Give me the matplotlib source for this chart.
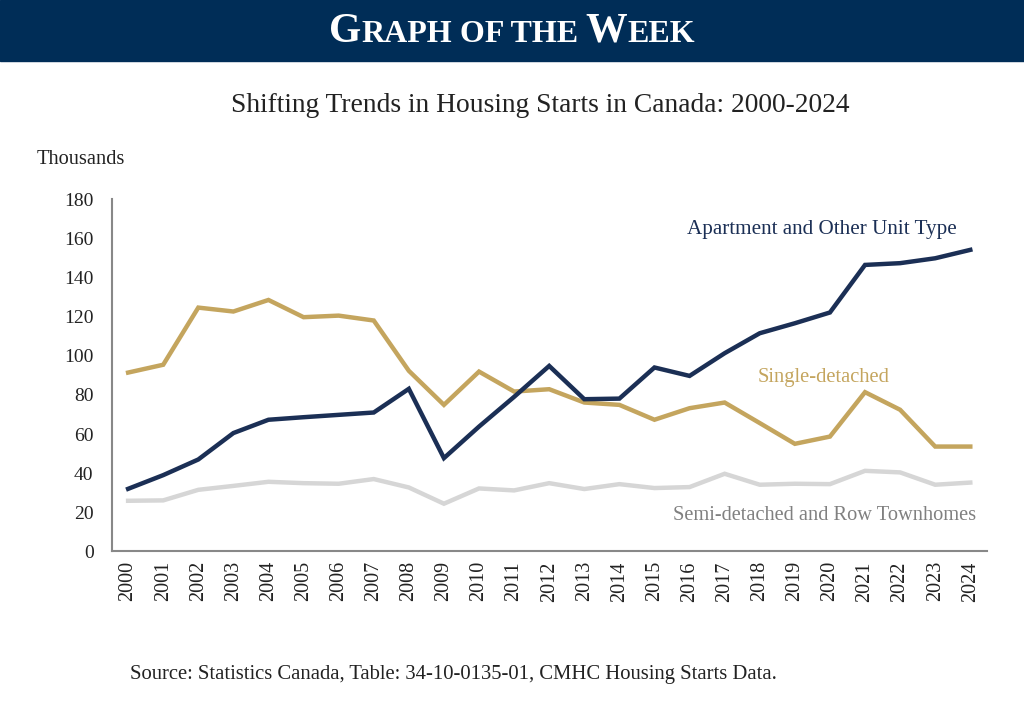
import numpy as np
import matplotlib
matplotlib.use('Agg')
import matplotlib.pyplot as plt
from matplotlib.patches import Rectangle

plt.rcParams['font.family'] = ['Liberation Serif', 'DejaVu Serif']

years = [str(y) for y in range(2000, 2025)]
# thousands of units
apartment = [32, 39, 47, 60.5, 67.3, 68.6, 69.8, 71, 83.1, 47.7, 63.8, 79,
             94.8, 77.8, 78.1, 94, 89.7, 101.3, 111.5, 116.6, 122.1, 146.4,
             147.3, 149.8, 154.1]
single = [91.4, 95.4, 124.6, 122.6, 128.5, 119.7, 120.5, 118, 92.3, 74.9,
          91.9, 81.7, 82.9, 76.1, 74.9, 67.3, 73.2, 76.1, 65.6, 55, 58.7,
          81.4, 72.4, 53.6, 53.6]
semi_row = [25.9, 26.1, 31.5, 33.5, 35.6, 34.9, 34.6, 37, 32.7, 24.4, 32.2,
            31.2, 34.9, 31.9, 34.4, 32.4, 32.9, 39.7, 34.1, 34.6, 34.4, 41.2,
            40.4, 34.1, 35.2]
yticks = list(range(0, 181, 20))

navy = '#1b2f55'
gold = '#c4a55e'
grey = '#d6d6d6'
banner = '#002d57'

fig = plt.figure(figsize=(10.24, 7.19), dpi=100)
ax = fig.add_axes([0.109, 0.233, 0.855, 0.490])

x = np.arange(len(years))
ax.plot(x, semi_row, color=grey, lw=3.2, solid_joinstyle='miter')
ax.plot(x, single, color=gold, lw=3.2, solid_joinstyle='miter')
ax.plot(x, apartment, color=navy, lw=3.2, solid_joinstyle='miter')

ax.set_xlim(-0.47, 24.48)
ax.set_ylim(0, 180)
ax.set_yticks(yticks)
ax.set_xticks(x)
ax.set_xticklabels(years, rotation=90)
ax.tick_params(length=0, colors='#222222')
ax.tick_params(axis='x', labelsize=14.5, pad=7)
ax.tick_params(axis='y', labelsize=14, pad=13)
for s in ['top', 'right']:
    ax.spines[s].set_visible(False)
for s in ['left', 'bottom']:
    ax.spines[s].set_color('#888888')
    ax.spines[s].set_linewidth(1.5)

ax.text(0.9657, 0.915, 'Apartment and Other Unit Type', transform=ax.transAxes,
        color=navy, fontsize=15.2, ha='right', va='center')
ax.text(0.888, 0.493, 'Single-detached', transform=ax.transAxes,
        color=gold, fontsize=14.8, ha='right', va='center')
ax.text(0.9874, 0.102, 'Semi-detached and Row Townhomes', transform=ax.transAxes,
        color='#808080', fontsize=14.7, ha='right', va='center')

# banner
fig.patches.append(Rectangle((0, 1 - 61 / 719), 1, 61 / 719, transform=fig.transFigure,
                             color=banner, zorder=0))
renderer = fig.canvas.get_renderer()
parts = [('G', 30), ('RAPH', 23), (' OF THE ', 23), ('W', 30), ('EEK', 23)]
texts = []
for s, size in parts:
    t = fig.text(0, 1 - 42 / 719, s, color='white', fontsize=size, fontweight='bold',
                 ha='left', va='baseline')
    texts.append(t)
widths = [t.get_window_extent(renderer).width / 1024 for t in texts]
xpos = 0.5 - sum(widths) / 2
for t, w in zip(texts, widths):
    t.set_x(xpos)
    xpos += w

fig.text(0.528, 1 - 105 / 719, 'Shifting Trends in Housing Starts in Canada: 2000-2024',
         fontsize=19.8, ha='center', va='center', color='#222222')
fig.text(37 / 1024, 1 - 160 / 719, 'Thousands', fontsize=14.7, ha='left', va='center',
         color='#222222')
fig.text(130 / 1024, 1 - 675 / 719,
         'Source: Statistics Canada, Table: 34-10-0135-01, CMHC Housing Starts Data.',
         fontsize=14.9, ha='left', va='center', color='#222222')

fig.savefig('out.png', dpi=100)
